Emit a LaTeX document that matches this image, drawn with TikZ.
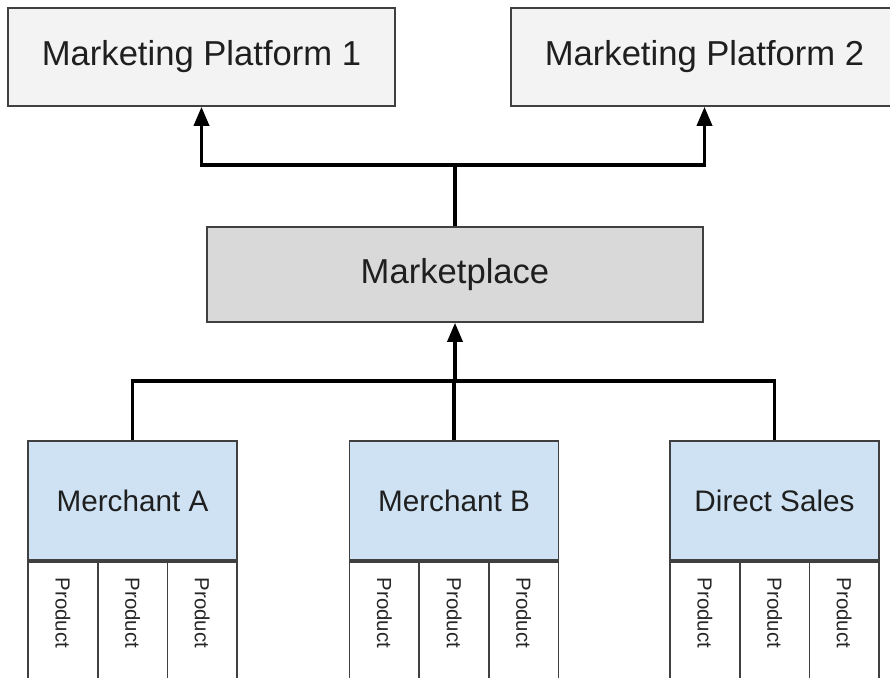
\documentclass[tikz,border=0pt]{standalone}
\usepackage{fontspec}
\setmainfont{Liberation Sans}
\usepackage{xcolor}
\usepackage{tikz}
\usetikzlibrary{calc,arrows.meta}

\definecolor{platgray}{HTML}{F3F3F3}
\definecolor{marketgray}{HTML}{D9D9D9}
\definecolor{merchblue}{HTML}{CFE2F3}
\definecolor{edgegray}{HTML}{404040}

\begin{document}
\begin{tikzpicture}[x=0.02cm, y=-0.02cm,
    box/.style={draw=edgegray, line width=0.95pt, inner sep=0pt},
    bigtext/.style={font=\fontsize{19.7}{23}\selectfont, text=black!88},
    platbox/.style={box, bigtext, fill=platgray, minimum width=7.74cm, minimum height=1.96cm},
    marketbox/.style={box, bigtext, fill=marketgray, minimum width=9.92cm, minimum height=1.9cm},
    merchbox/.style={box, fill=merchblue, minimum width=4.18cm, minimum height=2.38cm,
        font=\fontsize{16.9}{20}\selectfont, text=black!88},
    prodcell/.style={box, fill=white, minimum width=1.394cm, minimum height=2.8cm, anchor=north west},
    prodtext/.style={font=\fontsize{11.6}{13}\selectfont, text=black!85, rotate=-90},
    link/.style={line width=2pt, black},
    arrow/.style={link, -{Triangle[length=0.38cm, width=0.3cm]}}]
    \clip (0,0) rectangle (890,677);

    % Marketing platforms
    \node[platbox] (mp1) at (201.5,57) {Marketing Platform 1};
    \node[platbox] (mp2) at (704.5,57) {Marketing Platform 2};

    % Marketplace
    \node[marketbox] (market) at (455,274.5) {Marketplace};

    % Merchants
    \node[merchbox] (merchA) at (132.5,500.5) {Merchant A};
    \node[merchbox] (merchB) at (454,500.5) {Merchant B};
    \node[merchbox] (direct) at (774.5,500.5) {Direct Sales};

    % Product columns under each merchant
    \foreach \m in {merchA,merchB,direct} {
        \foreach \i in {1,2,3} {
            \node[prodcell] (\m-p\i) at ($(\m.south west)+({(\i-1)*69.7},0)$) {};
            \node[prodtext] at ($(\m-p\i.north)+(0,52)$) {Product};
        }
    }

    % Marketplace up to the platforms
    \coordinate (split) at (455,165);
    \draw[link] (market.north) -- (split);
    \draw[arrow] (split) -| (mp1.south);
    \draw[arrow] (split) -| (mp2.south);

    % Merchants up to the marketplace
    \coordinate (join) at (455,381);
    \draw[link] (merchA.north) |- (join);
    \draw[link] (direct.north) |- (join);
    \draw[link] (merchB.north) |- (join);
    \draw[arrow] (join) -- (market.south);
\end{tikzpicture}
\end{document}
